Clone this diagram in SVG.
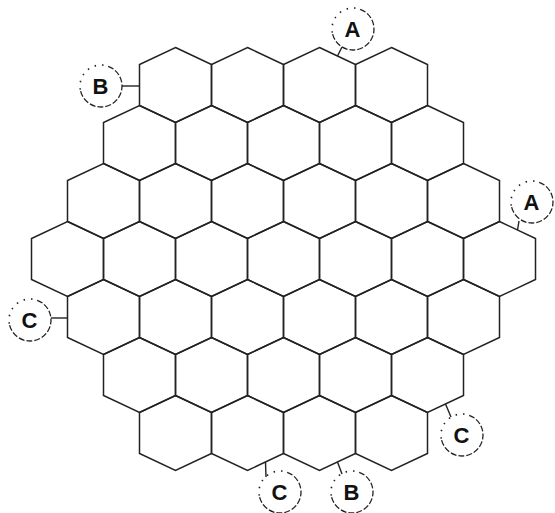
<svg xmlns="http://www.w3.org/2000/svg" xmlns:xlink="http://www.w3.org/1999/xlink" width="555" height="513" viewBox="0 0 555 513">
<style>
.hex{fill:none;stroke:#222;stroke-width:1.5;stroke-linejoin:miter}
.con{stroke:#222;stroke-width:1.4;fill:none}
.ringA{fill:none;stroke:#222;stroke-width:1.3;stroke-dasharray:6 2}
.ringB{fill:none;stroke:#222;stroke-width:1.6;stroke-dasharray:1.5 6}
.lbl{font-family:"Liberation Sans",Arial,sans-serif;font-weight:bold;font-size:22px;fill:#111;text-anchor:middle}
</style>
<defs>
<polygon id="h" class="hex" points="0,-37.5 36,-20.5 36,20.5 0,37.5 -36,20.5 -36,-20.5"/>
<g id="ring">
<path class="ringA" d="M7.18,-19.73 A21,21 0 1 1 -20.68,3.65"/>
<path class="ringB" d="M-20.68,3.65 A21,21 0 0 1 7.18,-19.73"/>
</g>
</defs>
<rect width="555" height="513" fill="#fff"/>
<g id="grid">
<g id="row0">
<use href="#h" x="175.5" y="85"/><use href="#h" x="247.5" y="85"/><use href="#h" x="319.5" y="85"/><use href="#h" x="391.5" y="85"/>
</g>
<g id="row1">
<use href="#h" x="139.5" y="143"/><use href="#h" x="211.5" y="143"/><use href="#h" x="283.5" y="143"/><use href="#h" x="355.5" y="143"/><use href="#h" x="427.5" y="143"/>
</g>
<g id="row2">
<use href="#h" x="103.5" y="201"/><use href="#h" x="175.5" y="201"/><use href="#h" x="247.5" y="201"/><use href="#h" x="319.5" y="201"/><use href="#h" x="391.5" y="201"/><use href="#h" x="463.5" y="201"/>
</g>
<g id="row3">
<use href="#h" x="67.5" y="259"/><use href="#h" x="139.5" y="259"/><use href="#h" x="211.5" y="259"/><use href="#h" x="283.5" y="259"/><use href="#h" x="355.5" y="259"/><use href="#h" x="427.5" y="259"/><use href="#h" x="499.5" y="259"/>
</g>
<g id="row4">
<use href="#h" x="103.5" y="317"/><use href="#h" x="175.5" y="317"/><use href="#h" x="247.5" y="317"/><use href="#h" x="319.5" y="317"/><use href="#h" x="391.5" y="317"/><use href="#h" x="463.5" y="317"/>
</g>
<g id="row5">
<use href="#h" x="139.5" y="375"/><use href="#h" x="211.5" y="375"/><use href="#h" x="283.5" y="375"/><use href="#h" x="355.5" y="375"/><use href="#h" x="427.5" y="375"/>
</g>
<g id="row6">
<use href="#h" x="175.5" y="433"/><use href="#h" x="247.5" y="433"/><use href="#h" x="319.5" y="433"/><use href="#h" x="391.5" y="433"/>
</g>
</g>
<g id="connectors">
<line class="con" x1="122" y1="86" x2="139.5" y2="86"/>
<line class="con" x1="337.5" y1="56" x2="342" y2="47"/>
<line class="con" x1="517.5" y1="230" x2="519" y2="221"/>
<line class="con" x1="51" y1="318" x2="67.5" y2="318"/>
<line class="con" x1="265.5" y1="462" x2="266" y2="477"/>
<line class="con" x1="337.5" y1="462" x2="342" y2="474"/>
<line class="con" x1="445.5" y1="404" x2="451" y2="417"/>
</g>
<g id="label-B-top"><use href="#ring" x="101" y="86"/><text class="lbl" x="100.5" y="94">B</text></g>
<g id="label-A-top"><use href="#ring" x="353" y="29"/><text class="lbl" x="352.5" y="37">A</text></g>
<g id="label-A-right"><use href="#ring" x="532" y="202"/><text class="lbl" x="531.5" y="210">A</text></g>
<g id="label-C-left"><use href="#ring" x="30" y="320"/><text class="lbl" x="29.5" y="328">C</text></g>
<g id="label-C-bottom"><use href="#ring" x="280" y="492"/><text class="lbl" x="279.5" y="500">C</text></g>
<g id="label-B-bottom"><use href="#ring" x="352" y="492"/><text class="lbl" x="351.5" y="500">B</text></g>
<g id="label-C-right"><use href="#ring" x="462" y="435"/><text class="lbl" x="461.5" y="443">C</text></g>
</svg>
